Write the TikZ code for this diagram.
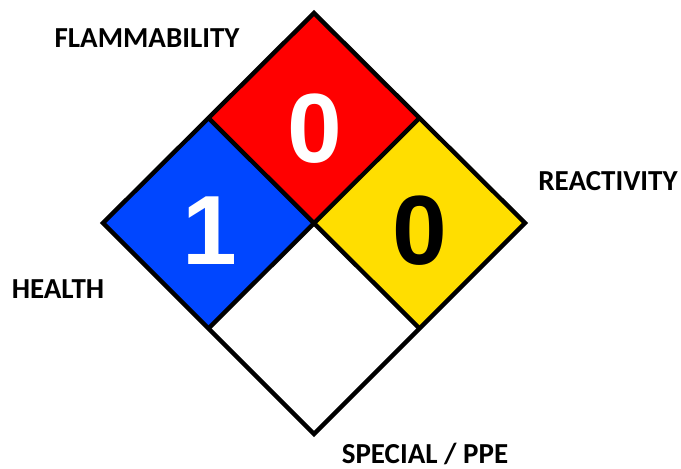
\documentclass[tikz,border=0pt]{standalone}
\usepackage{fontspec}
\usetikzlibrary{calc}
\newfontfamily\labelfont{Carlito}
\newfontfamily\numfont{Liberation Sans}
\definecolor{nfpared}{RGB}{255,0,0}
\definecolor{nfpablue}{RGB}{0,70,255}
\definecolor{nfpayellow}{RGB}{255,222,0}
\begin{document}
\begin{tikzpicture}[x=0.02cm,y=-0.02cm,
  cell/.style={draw=black,line width=2.5pt,line join=miter},
  lbl/.style={font=\labelfont\bfseries\fontsize{16.5}{18}\selectfont,inner sep=0pt},
  num/.style={font=\numfont\bfseries\fontsize{56}{60}\selectfont,inner sep=0pt}]
\useasboundingbox (0,0) rectangle (681,469);
\coordinate (T) at (314,13);
\coordinate (L) at (103,223);
\coordinate (R) at (525,223);
\coordinate (B) at (314,434);
\coordinate (C) at (314,223);
\coordinate (TL) at ($(T)!0.5!(L)$);
\coordinate (TR) at ($(T)!0.5!(R)$);
\coordinate (BL) at ($(B)!0.5!(L)$);
\coordinate (BR) at ($(B)!0.5!(R)$);
\fill[nfpared] (T) -- (TR) -- (C) -- (TL) -- cycle;
\fill[nfpablue] (TL) -- (C) -- (BL) -- (L) -- cycle;
\fill[nfpayellow] (TR) -- (R) -- (BR) -- (C) -- cycle;
\fill[white] (C) -- (BR) -- (B) -- (BL) -- cycle;
\draw[cell] (T) -- (R) -- (B) -- (L) -- cycle;
\draw[cell] (TL) -- (BR);
\draw[cell] (TR) -- (BL);
\node[num,text=white] (flam) at (315,129) {0};
\node[num,text=white] (health) at (210,231) {1};
\node[num,text=black] (react) at (420,231) {0};
\node[lbl] (lflam) at (147,38) {FLAMMABILITY};
\node[lbl] (lreact) at (608,181) {REACTIVITY};
\node[lbl] (lhealth) at (58,289) {HEALTH};
\node[lbl] (lspec) at (425,454) {SPECIAL / PPE};
\end{tikzpicture}
\end{document}
